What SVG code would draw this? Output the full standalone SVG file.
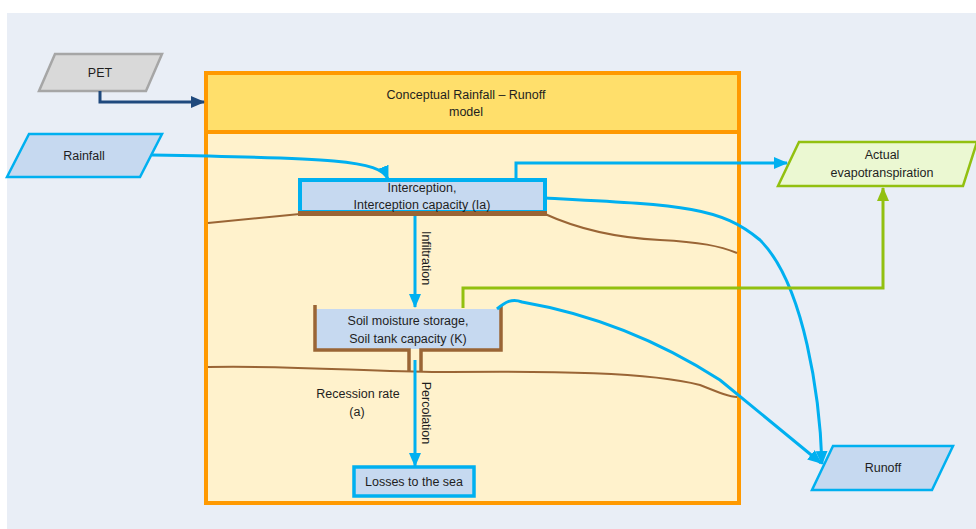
<svg xmlns="http://www.w3.org/2000/svg" width="976" height="529" viewBox="0 0 976 529">
<style>
text{font-family:"Liberation Sans",Arial,sans-serif;font-size:12.5px;fill:#1e1e1e;text-anchor:middle}
.blue{fill:#c6d9f0;stroke:#00b0f0}
.bl{fill:none;stroke:#00b0f0;stroke-width:3}
.br{fill:none;stroke:#9a6535;stroke-width:2}
</style>
<defs>
<marker id="ab" markerWidth="14" markerHeight="12" refX="13" refY="6" orient="auto" markerUnits="userSpaceOnUse"><path d="M0,0 L14,6 L0,12 z" fill="#00b0f0"/></marker>
<marker id="ad" markerWidth="14" markerHeight="12" refX="13" refY="6" orient="auto" markerUnits="userSpaceOnUse"><path d="M0,0 L14,6 L0,12 z" fill="#1f497d"/></marker>
<marker id="ag" markerWidth="14" markerHeight="12" refX="13" refY="6" orient="auto" markerUnits="userSpaceOnUse"><path d="M0,0 L14,6 L0,12 z" fill="#92c010"/></marker>
</defs>
<rect x="0" y="0" width="976" height="529" fill="#ffffff"/>
<rect x="7" y="13" width="969" height="516" fill="#e9eef6"/>

<g id="model">
<rect x="206" y="73" width="533" height="430" fill="#fff2cc" stroke="#ff9900" stroke-width="4"/>
<rect x="206" y="73" width="533" height="59" fill="#ffdf6b" stroke="#ff9900" stroke-width="4"/>
<text x="466" y="99">Conceptual Rainfall – Runoff</text>
<text x="466" y="116">model</text>
</g>

<g id="ground">
<path class="br" d="M208,223 L300,214"/>
<path class="br" d="M545,214 C580,230 620,238 660,240 C700,242 720,246 737,253"/>
<path class="br" d="M208,367 C300,365 380,373 450,372 C550,371 650,372 700,385 C720,393 730,397 737,397"/>
</g>

<g id="pet">
<polygon points="55,54 162,54 146,91 39,91" fill="#d9d9d9" stroke="#a6a6a6" stroke-width="2.5"/>
<text x="100" y="77">PET</text>
</g>
<g id="rainfall">
<polygon class="blue" points="29,134 162,134 140,177 7,177" stroke-width="2.5"/>
<text x="84" y="160">Rainfall</text>
</g>
<g id="interception">
<rect class="blue" x="300" y="180" width="245" height="32" stroke-width="4"/>
<rect x="298" y="211" width="249" height="5" fill="#9a6535"/>
<text x="422" y="192">Interception,</text>
<text x="422" y="209">Interception capacity (Ia)</text>
</g>
<g id="soil">
<rect x="316" y="309" width="185" height="40" fill="#c6d9f0"/>
<path d="M315,305 V350 H409 V372 M421,372 V350 H501 V306" fill="none" stroke="#9a6535" stroke-width="3.5"/>
<text x="408" y="325">Soil moisture storage,</text>
<text x="408" y="343">Soil tank capacity (K)</text>
</g>
<g id="losses">
<rect class="blue" x="354" y="467" width="120" height="29" stroke-width="3.5"/>
<text x="414" y="486">Losses to the sea</text>
</g>
<g id="recession">
<text x="358" y="398">Recession rate</text>
<text x="357" y="416">(a)</text>
</g>
<g id="aet">
<polygon points="799,142 977,142 963,186 778,186" fill="#ebf8d2" stroke="#92c010" stroke-width="2.5"/>
<text x="882" y="159">Actual</text>
<text x="882" y="177">evapotranspiration</text>
</g>
<g id="runoff">
<polygon class="blue" points="833,446 953,446 932,490 812,490" stroke-width="2.5"/>
<text x="883" y="472">Runoff</text>
</g>

<g id="connectors">
<path d="M100,91 V102 H204" fill="none" stroke="#1f497d" stroke-width="3" marker-end="url(#ad)"/>
<path class="bl" d="M152,155 C330,158 380,160 388,179" marker-end="url(#ab)"/>
<path class="bl" d="M516,180 V163 H787" marker-end="url(#ab)"/>
<path class="bl" d="M415,216 V307" marker-end="url(#ab)"/>
<path class="bl" d="M415,360 V466" marker-end="url(#ab)"/>
<path class="bl" d="M546,198 C680,205 720,206 760,240 C805,285 820,400 822,464" marker-end="url(#ab)"/>
<path class="bl" d="M497,309 C505,302 512,298 522,302 C580,312 650,335 720,380 L821,463" marker-end="url(#ab)"/>
<path d="M463,308 V288 H883 V188" fill="none" stroke="#92c010" stroke-width="3" marker-end="url(#ag)"/>
<text transform="translate(422,258) rotate(90)" text-anchor="middle">Infiltration</text>
<text transform="translate(422,413) rotate(90)" text-anchor="middle">Percolation</text>
</g>
</svg>
